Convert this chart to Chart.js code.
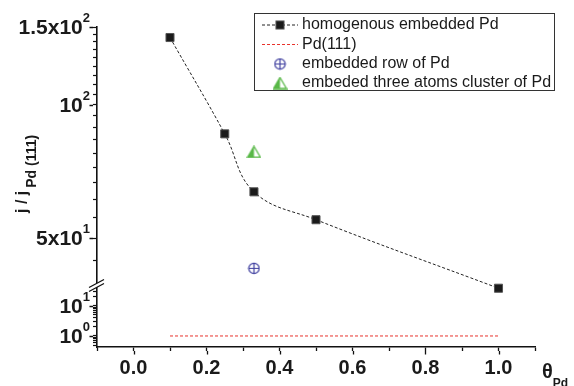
<!DOCTYPE html>
<html><head><meta charset="utf-8">
<script src="https://cdn.jsdelivr.net/npm/chart.js@4/dist/chart.umd.min.js"></script>
<style>html,body{margin:0;padding:0;background:#fff}#wrap{width:574px;height:386px;position:relative}</style>
</head><body><div id="wrap"><canvas id="c" width="574" height="386"></canvas></div>
<script>
// ---- data ----
const homoX = [0.1, 0.25, 0.33, 0.5, 1.0];
const homoY = [142, 86, 63.6, 55, 38.5];
const pdX = [0.1, 1.0];
const pdY = [1, 1];
const rowX = [0.33];
const rowY = [42.7];
const clusterX = [0.33];
const clusterY = [78.3];
const seriesNames = ['homogenous embedded Pd', 'Pd(111)', 'embedded row of Pd', 'embeded three atoms cluster of Pd'];
const xTickLabels = ['0.0', '0.2', '0.4', '0.6', '0.8', '1.0'];
const upperMajor = [150, 100, 50];
const upperLabels = [['1.5x10', '2'], ['10', '2'], ['5x10', '1']];
const upperMinorCount = 8;
const lowerMajor = [10, 1];
const lowerLabels = [['10', '1'], ['10', '0']];
const yTitle = ['j / j', 'Pd (111)'];
const xTitle = ['\u03B8', 'Pd'];

Chart.defaults.font.family = "'Liberation Sans', Arial, sans-serif";
Chart.defaults.color = '#1a1a1a';

function makeCirclePlus(color) {
  const c = document.createElement('canvas'); c.width = 13; c.height = 13;
  const g = c.getContext('2d'); g.strokeStyle = color; g.lineWidth = 1.2;
  g.beginPath(); g.arc(6.5, 6.5, 5.2, 0, Math.PI * 2); g.stroke();
  g.beginPath(); g.moveTo(1.3, 6.5); g.lineTo(11.7, 6.5); g.moveTo(6.5, 1.3); g.lineTo(6.5, 11.7); g.stroke();
  return c;
}
function makeHalfTriangle(color) {
  const c = document.createElement('canvas'); c.width = 15; c.height = 13;
  const g = c.getContext('2d');
  g.fillStyle = color; g.beginPath(); g.moveTo(7.5, 1); g.lineTo(7.5, 12); g.lineTo(1, 12); g.closePath(); g.fill();
  g.strokeStyle = color; g.lineWidth = 1.3; g.lineJoin = 'miter';
  g.beginPath(); g.moveTo(7.5, 1); g.lineTo(14, 12); g.lineTo(1, 12); g.closePath(); g.stroke();
  return c;
}
const circlePlus = makeCirclePlus('#3d3d9e');
const halfTri = makeHalfTriangle('#58b847');

const pts = (xs, ys) => xs.map((x, i) => ({ x: x, y: ys[i] }));

const axisCol = '#111';
function upperTicks(scale) {
  const vals = [];
  for (let i = 0; i < upperMajor.length; i++) {
    vals.push(upperMajor[i]);
    const next = i + 1 < upperMajor.length ? upperMajor[i + 1] : upperMajor[i] - (upperMajor[i - 1] - upperMajor[i]);
    const step = (upperMajor[i] - next) / (upperMinorCount + 1);
    for (let k = 1; k <= upperMinorCount; k++) vals.push(upperMajor[i] - k * step);
  }
  scale.ticks = vals.filter(v => v >= scale.min - 1e-6 && v <= scale.max + 1e-6).map(v => ({ value: v }));
}
function lowerTicks(scale) {
  const set = new Set();
  lowerMajor.forEach(m => {
    set.add(m);
    for (let k = 2; k <= 9; k++) { set.add(+(m * k).toFixed(6)); set.add(+(m * k / 10).toFixed(6)); }
  });
  scale.ticks = [...set].sort((a, b) => a - b)
    .filter(v => v >= scale.min - 1e-9 && v <= scale.max + 1e-9).map(v => ({ value: v }));
}

const decor = {
  id: 'decor',
  afterDraw(chart) {
    const ctx = chart.ctx;
    const sU = chart.scales.y, sL = chart.scales.yLow, sX = chart.scales.x;
    ctx.save();
    // longer marks for major ticks
    ctx.strokeStyle = axisCol; ctx.lineWidth = 1.3;
    ctx.beginPath();
    upperMajor.forEach(v => { const y = Math.round(sU.getPixelForValue(v)) + 0.5; ctx.moveTo(sU.right - 4, y); ctx.lineTo(sU.right - 7.5, y); });
    lowerMajor.forEach(v => { const y = Math.round(sL.getPixelForValue(v)) + 0.5; ctx.moveTo(sL.right - 4, y); ctx.lineTo(sL.right - 7.5, y); });
    xTickLabels.forEach(t => { const x = Math.round(sX.getPixelForValue(parseFloat(t))) + 0.5; ctx.moveTo(x, sX.top + 4); ctx.lineTo(x, sX.top + 7.5); });
    ctx.stroke();

    // y tick labels with superscripts
    const drawSup = (base, sup, y) => {
      const xr = sU.right - 7;
      ctx.textBaseline = 'alphabetic'; ctx.textAlign = 'left'; ctx.fillStyle = '#1a1a1a';
      ctx.font = "bold 13px 'Liberation Sans', Arial, sans-serif";
      const sw = ctx.measureText(sup).width;
      ctx.font = "bold 21px 'Liberation Sans', Arial, sans-serif";
      const bw = ctx.measureText(base).width;
      const baseY = y + 7.2;
      ctx.fillText(base, xr - sw - bw, baseY);
      ctx.font = "bold 13px 'Liberation Sans', Arial, sans-serif";
      ctx.fillText(sup, xr - sw, baseY - 12.5);
    };
    upperMajor.forEach((v, i) => drawSup(upperLabels[i][0], upperLabels[i][1], sU.getPixelForValue(v)));
    lowerMajor.forEach((v, i) => drawSup(lowerLabels[i][0], lowerLabels[i][1], sL.getPixelForValue(v)));

    // y title (rotated, with subscript)
    ctx.save();
    ctx.translate(26.5, 213);
    ctx.rotate(-Math.PI / 2);
    ctx.textAlign = 'left'; ctx.textBaseline = 'alphabetic';
    ctx.font = "bold 16px 'Liberation Sans', Arial, sans-serif";
    ctx.fillText(yTitle[0], 0, 0);
    const w0 = ctx.measureText(yTitle[0]).width;
    ctx.font = "bold 14px 'Liberation Sans', Arial, sans-serif";
    ctx.fillText(yTitle[1], w0 + 3, 9.5);
    ctx.restore();

    // x title
    ctx.textAlign = 'left'; ctx.textBaseline = 'alphabetic';
    ctx.font = "bold 20px 'Liberation Sans', Arial, sans-serif";
    ctx.fillText(xTitle[0], 542, 378);
    const tw = ctx.measureText(xTitle[0]).width;
    ctx.font = "bold 12px 'Liberation Sans', Arial, sans-serif";
    ctx.fillText(xTitle[1], 542 + tw, 387);

    // axis break mark
    const bx = sU.right, by = sU.bottom;
    ctx.fillStyle = '#fff';
    ctx.beginPath();
    ctx.moveTo(bx - 4, by - 0.5); ctx.lineTo(bx + 4, by - 5); ctx.lineTo(bx + 4, by - 1); ctx.lineTo(bx - 4, by + 3.5);
    ctx.closePath(); ctx.fill();
    ctx.strokeStyle = axisCol; ctx.lineWidth = 1.3;
    ctx.beginPath();
    ctx.moveTo(bx - 8, by + 1.5); ctx.lineTo(bx + 7, by - 6.5);
    ctx.moveTo(bx - 8, by + 5.5); ctx.lineTo(bx + 7, by - 2.5);
    ctx.stroke();

    // legend
    const lx = 254.5, ly = 13.5, lw = 300, lh = 77;
    ctx.strokeStyle = '#333'; ctx.lineWidth = 1;
    ctx.strokeRect(lx, ly, lw, lh);
    const rows = [25, 44.5, 64, 83];
    const ds = chart.data.datasets;
    ctx.font = "16px 'Liberation Sans', Arial, sans-serif";
    ctx.textBaseline = 'middle'; ctx.textAlign = 'left';
    rows.forEach((ry, i) => {
      const d = ds[i];
      if (d.showLine !== false) {
        ctx.save();
        ctx.strokeStyle = d.borderColor; ctx.lineWidth = d.borderWidth; ctx.setLineDash(d.borderDash || []);
        ctx.beginPath(); ctx.moveTo(262, ry); ctx.lineTo(298, ry); ctx.stroke();
        ctx.restore();
      }
      if (d.pointRadius > 0) {
        ctx.save();
        if (typeof d.pointStyle === 'string') {
          const s = d.pointRadius * Math.SQRT1_2;
          ctx.fillStyle = d.pointBackgroundColor; ctx.strokeStyle = d.pointBorderColor; ctx.lineWidth = d.pointBorderWidth;
          ctx.fillRect(280 - s, ry - s, 2 * s, 2 * s); ctx.strokeRect(280 - s, ry - s, 2 * s, 2 * s);
        } else {
          ctx.drawImage(d.pointStyle, 280 - d.pointStyle.width / 2, ry - d.pointStyle.height / 2);
        }
        ctx.restore();
      }
      ctx.fillStyle = '#1a1a1a';
      ctx.fillText(d.label, 302, ry);
    });
    ctx.restore();
  }
};

new Chart(document.getElementById('c'), {
  type: 'line',
  data: {
    datasets: [
      { label: seriesNames[0], data: pts(homoX, homoY), yAxisID: 'y', clip: false,
        borderColor: '#222', borderWidth: 1, borderDash: [3, 2], tension: 0.4,
        pointStyle: 'rect', pointRadius: 5.7, pointBackgroundColor: '#1a1a1a', pointBorderColor: '#555', pointBorderWidth: 1 },
      { label: seriesNames[1], data: pts(pdX, pdY), yAxisID: 'yLow',
        borderColor: '#e8322c', borderWidth: 1, borderDash: [3, 2], pointRadius: 0 },
      { label: seriesNames[2], data: pts(rowX, rowY), yAxisID: 'y', showLine: false,
        pointStyle: circlePlus, pointRadius: 6 },
      { label: seriesNames[3], data: pts(clusterX, clusterY), yAxisID: 'y', showLine: false,
        pointStyle: halfTri, pointRadius: 6 }
    ]
  },
  options: {
    responsive: false, animation: false, devicePixelRatio: 1,
    layout: { padding: { top: 27, right: 39, bottom: 0, left: 0 } },
    plugins: { legend: { display: false }, tooltip: { enabled: false } },
    scales: {
      x: {
        type: 'linear', position: 'bottom', min: -0.1, max: 1.1,
        afterFit: s => { s.height = 39; },
        ticks: { stepSize: 0.1, autoSkip: false, maxRotation: 0, padding: 5,
          font: { size: 20, weight: 'bold' }, color: '#1a1a1a',
          callback: v => { const l = xTickLabels.find(t => Math.abs(parseFloat(t) - v) < 1e-6); return l || ''; } },
        grid: { drawOnChartArea: false, drawTicks: true, tickLength: 4, tickColor: axisCol, tickWidth: 1.3 },
        border: { color: axisCol, width: 1.6 }
      },
      yLow: {
        type: 'logarithmic', position: 'left', stack: 'left', stackWeight: 61,
        min: 0.43, max: 46,
        afterFit: s => { s.width = 97; },
        afterBuildTicks: lowerTicks,
        ticks: { display: false },
        grid: { drawOnChartArea: false, drawTicks: true, tickLength: 4, tickColor: axisCol, tickWidth: 1.2 },
        border: { color: axisCol, width: 1.6 }
      },
      y: {
        type: 'logarithmic', position: 'left', stack: 'left', stackWeight: 259,
        min: 38.95, max: 150,
        afterFit: s => { s.width = 97; },
        afterBuildTicks: upperTicks,
        ticks: { display: false },
        grid: { drawOnChartArea: false, drawTicks: true, tickLength: 4, tickColor: axisCol, tickWidth: 1.2 },
        border: { color: axisCol, width: 1.6 }
      }
    }
  },
  plugins: [decor]
});
</script>
</body></html>
